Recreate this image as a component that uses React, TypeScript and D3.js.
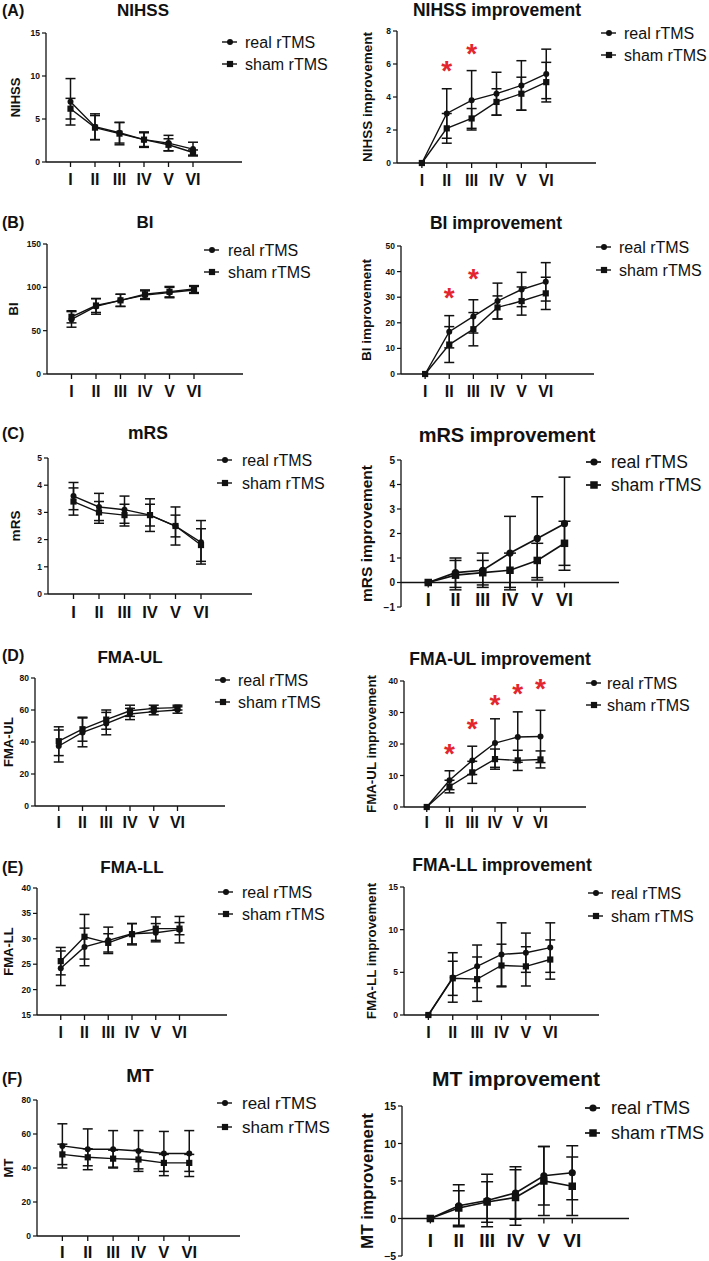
import React from "react";
import * as d3 from "d3";

const FONT = "'Liberation Sans', Arial, Helvetica, sans-serif";
const W = 709;
const H = 1261;

const categories = ["I", "II", "III", "IV", "V", "VI"];
const seriesNames = ["real rTMS", "sham rTMS"];

// (A) NIHSS
const nihssTicks = [0, 5, 10, 15];
const nihssReal = [7.0, 4.1, 3.4, 2.6, 2.2, 1.5];
const nihssRealErr = [2.7, 1.5, 1.2, 0.9, 0.9, 0.8];
const nihssSham = [6.2, 4.0, 3.3, 2.6, 2.0, 1.1];
const nihssShamErr = [1.2, 1.4, 1.3, 0.8, 0.7, 0.3];

const nihssImpTicks = [0, 2, 4, 6, 8];
const nihssImpReal = [0, 3.0, 3.8, 4.2, 4.7, 5.4];
const nihssImpRealErr = [0, 1.5, 1.8, 1.3, 1.5, 1.5];
const nihssImpSham = [0, 2.1, 2.7, 3.7, 4.2, 4.9];
const nihssImpShamErr = [0, 0.9, 0.6, 0.8, 1.0, 1.2];
const nihssImpStarCats = ["II", "III"];
const nihssImpStarVals = [5.95, 6.97];

// (B) BI
const biTicks = [0, 50, 100, 150];
const biReal = [63, 78, 85, 91, 94, 97];
const biRealErr = [9, 9, 7, 5, 6, 4];
const biSham = [66, 79, 85, 92, 95, 98];
const biShamErr = [7, 8, 7, 5, 6, 4];

const biImpTicks = [0, 10, 20, 30, 40, 50];
const biImpReal = [0, 16.5, 22.5, 28.5, 33.0, 36.0];
const biImpRealErr = [0, 6.3, 6.5, 7.0, 6.7, 7.5];
const biImpSham = [0, 11.5, 17.5, 26.0, 28.5, 31.5];
const biImpShamErr = [0, 7.0, 6.5, 4.5, 5.5, 6.3];
const biImpStarCats = ["II", "III"];
const biImpStarVals = [32, 39.5];

// (C) mRS
const mrsTicks = [0, 1, 2, 3, 4, 5];
const mrsReal = [3.6, 3.2, 3.1, 2.9, 2.5, 1.9];
const mrsRealErr = [0.5, 0.5, 0.5, 0.6, 0.7, 0.8];
const mrsSham = [3.4, 3.0, 2.9, 2.9, 2.5, 1.8];
const mrsShamErr = [0.5, 0.4, 0.4, 0.4, 0.4, 0.6];

const mrsImpTicks = [-1, 0, 1, 2, 3, 4, 5];
const mrsImpReal = [0, 0.4, 0.5, 1.2, 1.8, 2.4];
const mrsImpRealErr = [0, 0.6, 0.7, 1.5, 1.7, 1.9];
const mrsImpSham = [0, 0.3, 0.4, 0.5, 0.9, 1.6];
const mrsImpShamErr = [0, 0.6, 0.5, 0.7, 0.7, 0.9];

// (D) FMA-UL
const fmaulTicks = [0, 20, 40, 60, 80];
const fmaulReal = [37.5, 46, 51.5, 57.5, 59, 60];
const fmaulRealErr = [10, 9, 7, 3.5, 2, 2];
const fmaulSham = [40.5, 48, 54, 59.5, 61, 61.5];
const fmaulShamErr = [9, 7.5, 6, 3.5, 2, 1.5];

const fmaulImpTicks = [0, 10, 20, 30, 40];
const fmaulImpReal = [0, 8.5, 14.8, 20.3, 22.2, 22.4];
const fmaulImpRealErr = [0, 3, 4.5, 7.7, 8, 8.3];
const fmaulImpSham = [0, 6.5, 11, 15.2, 14.8, 15.1];
const fmaulImpShamErr = [0, 2, 3.5, 3.2, 3.2, 2.7];
const fmaulImpStarCats = ["II", "III", "IV", "V", "VI"];
const fmaulImpStarVals = [19.0, 26.7, 34.3, 37.8, 39.4];

// (E) FMA-LL
const fmallTicks = [15, 20, 25, 30, 35, 40];
const fmallReal = [24.2, 28.4, 29.7, 31.0, 31.2, 31.8];
const fmallRealErr = [3.4, 3.7, 2.6, 2.0, 1.8, 2.6];
const fmallSham = [25.6, 30.4, 29.2, 30.9, 32.0, 32.0];
const fmallShamErr = [2.7, 4.4, 1.8, 2.1, 2.3, 1.2];

const fmallImpTicks = [0, 5, 10, 15];
const fmallImpReal = [0, 4.4, 5.7, 7.1, 7.3, 7.9];
const fmallImpRealErr = [0, 2.9, 2.5, 3.7, 2.3, 2.9];
const fmallImpSham = [0, 4.3, 4.2, 5.8, 5.7, 6.5];
const fmallImpShamErr = [0, 2.0, 2.6, 2.5, 2.3, 2.3];

// (F) MT
const mtTicks = [0, 20, 40, 60, 80];
const mtReal = [53, 51, 51, 50, 48.5, 48.5];
const mtRealErr = [13, 12, 11, 12, 13, 13.5];
const mtSham = [48, 46.3, 45.5, 45, 43, 43];
const mtShamErr = [6, 5, 5, 5.5, 5, 5];

const mtImpTicks = [-5, 0, 5, 10, 15];
const mtImpReal = [0, 1.7, 2.4, 3.4, 5.7, 6.1];
const mtImpRealErr = [0, 2.8, 3.5, 3.5, 3.9, 3.6];
const mtImpSham = [0, 1.4, 2.2, 2.8, 5.0, 4.3];
const mtImpShamErr = [0, 2.3, 2.7, 3.7, 4.6, 3.9];

type PanelCfg = {
  letter?: string;
  letterY?: number;
  title: string;
  titleX: number;
  titleY: number;
  titleSize: number;
  yLabel: string;
  yLabelX: number;
  yLabelSize: number;
  x0: number;
  x1: number;
  yTop: number;
  yBot: number;
  ticks: number[];
  tickSize: number;
  xLabelY: number;
  xLabelSize: number;
  legX: number;
  legTextX: number;
  legY: number[];
  legSize: number;
  real: number[];
  realErr: number[];
  sham: number[];
  shamErr: number[];
  starCats?: string[];
  starVals?: number[];
  big?: boolean;
};

const panels: PanelCfg[] = [
  {
    letter: "(A)", letterY: 16, title: "NIHSS", titleX: 143, titleY: 16, titleSize: 17,
    yLabel: "NIHSS", yLabelX: 15, yLabelSize: 13,
    x0: 46, x1: 242, yTop: 33, yBot: 162, ticks: nihssTicks, tickSize: 8.5,
    xLabelY: 185, xLabelSize: 16, legX: 230, legTextX: 245, legY: [42, 64], legSize: 16,
    real: nihssReal, realErr: nihssRealErr, sham: nihssSham, shamErr: nihssShamErr,
  },
  {
    title: "NIHSS improvement", titleX: 497, titleY: 16, titleSize: 17.5,
    yLabel: "NIHSS improvement", yLabelX: 367, yLabelSize: 13.5,
    x0: 397, x1: 596, yTop: 31, yBot: 163, ticks: nihssImpTicks, tickSize: 8.5,
    xLabelY: 186, xLabelSize: 16, legX: 609, legTextX: 624, legY: [33, 55], legSize: 16,
    real: nihssImpReal, realErr: nihssImpRealErr, sham: nihssImpSham, shamErr: nihssImpShamErr,
    starCats: nihssImpStarCats, starVals: nihssImpStarVals,
  },
  {
    letter: "(B)", letterY: 228, title: "BI", titleX: 145, titleY: 228, titleSize: 17,
    yLabel: "BI", yLabelX: 13, yLabelSize: 13,
    x0: 47, x1: 243, yTop: 244, yBot: 374, ticks: biTicks, tickSize: 8.5,
    xLabelY: 397, xLabelSize: 16, legX: 212, legTextX: 228, legY: [250, 272], legSize: 16,
    real: biReal, realErr: biRealErr, sham: biSham, shamErr: biShamErr,
  },
  {
    title: "BI improvement", titleX: 496, titleY: 229, titleSize: 17.5,
    yLabel: "BI improvement", yLabelX: 366, yLabelSize: 13.5,
    x0: 401, x1: 594, yTop: 246, yBot: 374, ticks: biImpTicks, tickSize: 8.5,
    xLabelY: 397, xLabelSize: 16, legX: 604, legTextX: 619, legY: [247, 270], legSize: 16,
    real: biImpReal, realErr: biImpRealErr, sham: biImpSham, shamErr: biImpShamErr,
    starCats: biImpStarCats, starVals: biImpStarVals,
  },
  {
    letter: "(C)", letterY: 439, title: "mRS", titleX: 148, titleY: 439, titleSize: 17.5,
    yLabel: "mRS", yLabelX: 15, yLabelSize: 13.5,
    x0: 48, x1: 252, yTop: 458, yBot: 594, ticks: mrsTicks, tickSize: 8.5,
    xLabelY: 618, xLabelSize: 16.5, legX: 225, legTextX: 242, legY: [460, 483], legSize: 16,
    real: mrsReal, realErr: mrsRealErr, sham: mrsSham, shamErr: mrsShamErr,
  },
  {
    title: "mRS improvement", titleX: 507, titleY: 442, titleSize: 20,
    yLabel: "mRS improvement", yLabelX: 366, yLabelSize: 15.5,
    x0: 401, x1: 619, yTop: 460, yBot: 607, ticks: mrsImpTicks, tickSize: 10,
    xLabelY: 606, xLabelSize: 18, legX: 594, legTextX: 611, legY: [462, 485], legSize: 17.5,
    real: mrsImpReal, realErr: mrsImpRealErr, sham: mrsImpSham, shamErr: mrsImpShamErr, big: true,
  },
  {
    letter: "(D)", letterY: 661, title: "FMA-UL", titleX: 130, titleY: 663, titleSize: 17,
    yLabel: "FMA-UL", yLabelX: 8, yLabelSize: 13,
    x0: 35, x1: 225, yTop: 678, yBot: 806, ticks: fmaulTicks, tickSize: 8.5,
    xLabelY: 828, xLabelSize: 16, legX: 223, legTextX: 238, legY: [680, 702], legSize: 16,
    real: fmaulReal, realErr: fmaulRealErr, sham: fmaulSham, shamErr: fmaulShamErr,
  },
  {
    title: "FMA-UL improvement", titleX: 500, titleY: 665, titleSize: 17.5,
    yLabel: "FMA-UL improvement", yLabelX: 371, yLabelSize: 13.3,
    x0: 404, x1: 586, yTop: 681, yBot: 807, ticks: fmaulImpTicks, tickSize: 8.5,
    xLabelY: 828, xLabelSize: 16, legX: 594, legTextX: 607, legY: [683, 705], legSize: 16,
    real: fmaulImpReal, realErr: fmaulImpRealErr, sham: fmaulImpSham, shamErr: fmaulImpShamErr,
    starCats: fmaulImpStarCats, starVals: fmaulImpStarVals,
  },
  {
    letter: "(E)", letterY: 873, title: "FMA-LL", titleX: 132, titleY: 873, titleSize: 17,
    yLabel: "FMA-LL", yLabelX: 8, yLabelSize: 13,
    x0: 37, x1: 227, yTop: 888, yBot: 1015, ticks: fmallTicks, tickSize: 8.5,
    xLabelY: 1038, xLabelSize: 16, legX: 226, legTextX: 242, legY: [892, 914], legSize: 16,
    real: fmallReal, realErr: fmallRealErr, sham: fmallSham, shamErr: fmallShamErr,
  },
  {
    title: "FMA-LL improvement", titleX: 502, titleY: 871, titleSize: 17.5,
    yLabel: "FMA-LL improvement", yLabelX: 371, yLabelSize: 13.3,
    x0: 404, x1: 599, yTop: 887, yBot: 1015, ticks: fmallImpTicks, tickSize: 8.5,
    xLabelY: 1038, xLabelSize: 16, legX: 596, legTextX: 611, legY: [893, 916], legSize: 16,
    real: fmallImpReal, realErr: fmallImpRealErr, sham: fmallImpSham, shamErr: fmallImpShamErr,
  },
  {
    letter: "(F)", letterY: 1084, title: "MT", titleX: 140, titleY: 1082, titleSize: 19,
    yLabel: "MT", yLabelX: 8, yLabelSize: 13,
    x0: 37, x1: 240, yTop: 1100, yBot: 1236, ticks: mtTicks, tickSize: 8.5,
    xLabelY: 1258, xLabelSize: 16.5, legX: 225, legTextX: 242, legY: [1103, 1127], legSize: 17,
    real: mtReal, realErr: mtRealErr, sham: mtSham, shamErr: mtShamErr,
  },
  {
    title: "MT improvement", titleX: 516, titleY: 1086, titleSize: 21,
    yLabel: "MT improvement", yLabelX: 367, yLabelSize: 17,
    x0: 402, x1: 629, yTop: 1106, yBot: 1256, ticks: mtImpTicks, tickSize: 10.5,
    xLabelY: 1247, xLabelSize: 19, legX: 593, legTextX: 611, legY: [1108, 1133], legSize: 18,
    real: mtImpReal, realErr: mtImpRealErr, sham: mtImpSham, shamErr: mtImpShamErr, big: true,
  },
];

function Marker({ shape, cx, cy, big }: { shape: string; cx: number; cy: number; big?: boolean }) {
  if (shape === "circle") {
    return <circle cx={cx} cy={cy} r={big ? 3.6 : 3} fill="#111" />;
  }
  const s = big ? 7.5 : 6.2;
  return <rect x={cx - s / 2} y={cy - s / 2} width={s} height={s} fill="#111" />;
}

function Panel({ p }: { p: PanelCfg }) {
  const x = d3.scaleLinear().domain([-1, 7]).range([p.x0, p.x1]);
  const y = d3
    .scaleLinear()
    .domain([p.ticks[0], p.ticks[p.ticks.length - 1]])
    .range([p.yBot, p.yTop]);
  const axisY = p.ticks[0] < 0 ? y(0) : p.yBot;
  const lw = p.big ? 1.7 : 1.4;
  const capW = p.big ? 6 : 5;
  const line = d3
    .line<number>()
    .x((_, i) => x(i))
    .y((d) => y(d));
  const series = [
    { vals: p.real, err: p.realErr, shape: "circle" },
    { vals: p.sham, err: p.shamErr, shape: "square" },
  ];
  const starFs = 28;
  return (
    <g>
      {p.letter && (
        <text x={2} y={p.letterY} fontSize={16} fontWeight="bold" fontFamily={FONT} fill="#111">
          {p.letter}
        </text>
      )}
      <text
        x={p.titleX}
        y={p.titleY}
        fontSize={p.titleSize}
        fontWeight="bold"
        textAnchor="middle"
        fontFamily={FONT}
        fill="#111"
      >
        {p.title}
      </text>
      <text
        transform={`translate(${p.yLabelX},${(p.yTop + p.yBot) / 2}) rotate(-90)`}
        fontSize={p.yLabelSize}
        fontWeight="bold"
        textAnchor="middle"
        dominantBaseline="central"
        fontFamily={FONT}
        fill="#111"
      >
        {p.yLabel}
      </text>
      {/* y axis */}
      <line x1={p.x0} x2={p.x0} y1={p.yBot} y2={p.yTop} stroke="#111" strokeWidth={1.3} />
      {p.ticks.map((t) => (
        <g key={"yt" + t}>
          <line x1={p.x0 - 4} x2={p.x0} y1={y(t)} y2={y(t)} stroke="#111" strokeWidth={1.2} />
          <text
            x={p.x0 - 6}
            y={y(t)}
            fontSize={p.tickSize}
            fontWeight="bold"
            textAnchor="end"
            dominantBaseline="central"
            fontFamily={FONT}
            fill="#111"
          >
            {t < 0 ? "\u2212" + Math.abs(t) : t}
          </text>
        </g>
      ))}
      {/* x axis */}
      <line x1={p.x0} x2={p.x1} y1={axisY} y2={axisY} stroke="#111" strokeWidth={1.3} />
      {categories.map((c, i) => (
        <g key={"xt" + c}>
          <line x1={x(i)} x2={x(i)} y1={axisY} y2={axisY + 5} stroke="#111" strokeWidth={1.3} />
          <text
            x={x(i)}
            y={p.xLabelY}
            fontSize={p.xLabelSize}
            fontWeight="bold"
            textAnchor="middle"
            fontFamily={FONT}
            fill="#111"
          >
            {c}
          </text>
        </g>
      ))}
      {/* series */}
      {series.map((s, si) => (
        <g key={"s" + si}>
          <path d={line(s.vals) || ""} fill="none" stroke="#111" strokeWidth={lw} />
          {s.vals.map((v, i) =>
            s.err[i] > 0 ? (
              <g key={"e" + i}>
                <line x1={x(i)} x2={x(i)} y1={y(v - s.err[i])} y2={y(v + s.err[i])} stroke="#111" strokeWidth={1.5} />
                <line x1={x(i) - capW} x2={x(i) + capW} y1={y(v + s.err[i])} y2={y(v + s.err[i])} stroke="#111" strokeWidth={1.5} />
                <line x1={x(i) - capW} x2={x(i) + capW} y1={y(v - s.err[i])} y2={y(v - s.err[i])} stroke="#111" strokeWidth={1.5} />
              </g>
            ) : null
          )}
          {s.vals.map((v, i) => (
            <Marker key={"m" + i} shape={s.shape} cx={x(i)} cy={y(v)} big={p.big} />
          ))}
        </g>
      ))}
      {/* stars */}
      {p.starCats &&
        p.starCats.map((c, i) => (
          <text
            key={"st" + i}
            x={x(categories.indexOf(c))}
            y={y(p.starVals![i]) + starFs * 0.55}
            fontSize={starFs}
            fontWeight="bold"
            textAnchor="middle"
            fontFamily={FONT}
            fill="#e3262e"
          >
            *
          </text>
        ))}
      {/* legend */}
      {seriesNames.map((n, i) => (
        <g key={"l" + i}>
          <line x1={p.legX - 8} x2={p.legX + 7} y1={p.legY[i]} y2={p.legY[i]} stroke="#111" strokeWidth={lw} />
          <Marker shape={i === 0 ? "circle" : "square"} cx={p.legX} cy={p.legY[i]} big={p.big} />
          <text
            x={p.legTextX}
            y={p.legY[i]}
            fontSize={p.legSize}
            dominantBaseline="central"
            fontFamily={FONT}
            fill="#111"
          >
            {n}
          </text>
        </g>
      ))}
    </g>
  );
}

export default function App() {
  return (
    <svg
      width={W}
      height={H}
      viewBox={`0 0 ${W} ${H}`}
      style={{ position: "absolute", left: 0, top: 0, background: "#fff" }}
    >
      <rect width={W} height={H} fill="#fff" />
      {panels.map((p, i) => (
        <Panel key={i} p={p} />
      ))}
    </svg>
  );
}
